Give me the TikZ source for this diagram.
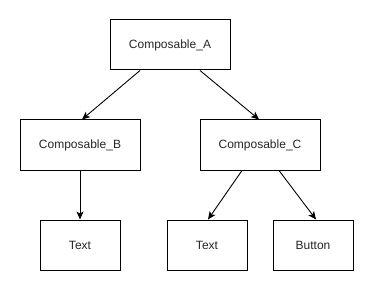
\documentclass[tikz,border=0pt]{standalone}
\usepackage{fontspec}
\setmainfont{Liberation Sans}
\usetikzlibrary{arrows.meta}
\begin{document}
\begin{tikzpicture}[x=1pt,y=-1pt,
  box/.style={draw=black,line width=1pt,fill=white,minimum width=120pt,minimum height=50pt,inner sep=0pt,font=\fontsize{12}{14}\selectfont,text=black!85},
  small/.style={box,minimum width=80pt},
  arr/.style={draw=black,line width=0.9pt,-{Stealth[length=8pt,width=7pt,inset=2pt]}}]
\useasboundingbox (0,0) rectangle (374,291);
\node[box] (A) at (170,45) {Composable\_A};
\node[box] (B) at (80,145) {Composable\_B};
\node[box] (C) at (260,145) {Composable\_C};
\node[small] (T1) at (80,245) {Text};
\node[small] (T2) at (207,245) {Text};
\node[small] (Bt) at (313,245) {Button};
\draw[arr] ([xshift=-30pt]A.south) -- ([xshift=2pt]B.north);
\draw[arr] ([xshift=30pt]A.south) -- ([xshift=-1pt]C.north);
\draw[arr] (B.south) -- (T1.north);
\draw[arr] ([xshift=-18pt]C.south) -- ([xshift=1pt]T2.north);
\draw[arr] ([xshift=19pt]C.south) -- ([xshift=3pt]Bt.north);
\end{tikzpicture}
\end{document}
